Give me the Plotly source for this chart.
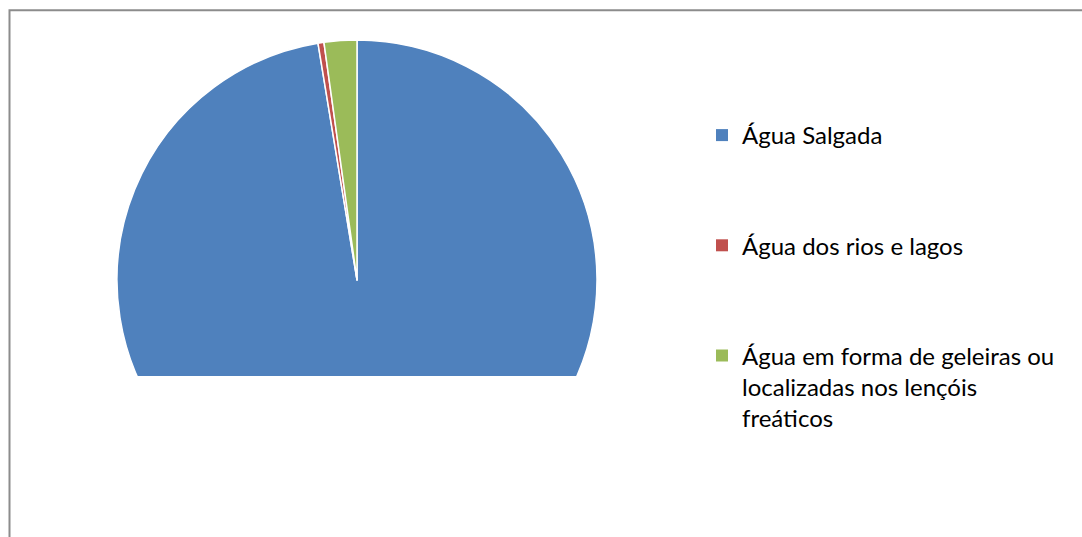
import plotly.graph_objects as go

labels = ["Água Salgada", "Água dos rios e lagos",
          "Água em forma de geleiras ou<br>localizadas nos lençóis<br>freáticos"]
values = [97.4, 0.4, 2.2]
colors = ["#4F81BD", "#C0504D", "#9BBB59"]

W, H = 1082, 537
cx, cy, r = 357, 280, 240

fig = go.Figure()
fig.add_trace(go.Pie(
    labels=labels,
    values=values,
    sort=False,
    direction="clockwise",
    rotation=0,
    textinfo="none",
    hoverinfo="label+percent",
    showlegend=False,
    marker=dict(colors=colors, line=dict(color="white", width=1.5)),
    domain=dict(x=[(cx - r) / W, (cx + r) / W],
                y=[(H - cy - r) / H, (H - cy + r) / H]),
))

# legend entries (one group per category so the vertical gap can be set)
for i, (lab, col) in enumerate(zip(labels, colors)):
    fig.add_trace(go.Scatter(
        x=[None], y=[None], mode="markers", name=lab,
        legendgroup=f"g{i}",
        marker=dict(symbol="square", size=12, color=col),
        hoverinfo="skip",
    ))

fig.update_layout(
    width=W, height=H,
    margin=dict(l=0, r=0, t=0, b=0),
    paper_bgcolor="white",
    plot_bgcolor="white",
    xaxis=dict(visible=False),
    yaxis=dict(visible=False),
    showlegend=True,
    legend=dict(x=702 / W, y=1 - 113 / H, xanchor="left", yanchor="top",
                valign="top", traceorder="grouped", tracegroupgap=76,
                font=dict(family="Lato", size=24, color="black"),
                bgcolor="rgba(0,0,0,0)", itemwidth=30),
    shapes=[
        dict(type="rect", xref="paper", yref="paper", layer="above",
             x0=11 / W, x1=1.05, y0=-0.05, y1=1 - 376 / H,
             fillcolor="white", line=dict(width=0)),
        dict(type="rect", xref="paper", yref="paper", layer="above",
             x0=9.5 / W, x1=1.05, y0=-0.05, y1=1 - 10.3 / H,
             fillcolor="rgba(0,0,0,0)", line=dict(color="#8C8C8C", width=2)),
    ],
)

fig.write_html("out.html")
